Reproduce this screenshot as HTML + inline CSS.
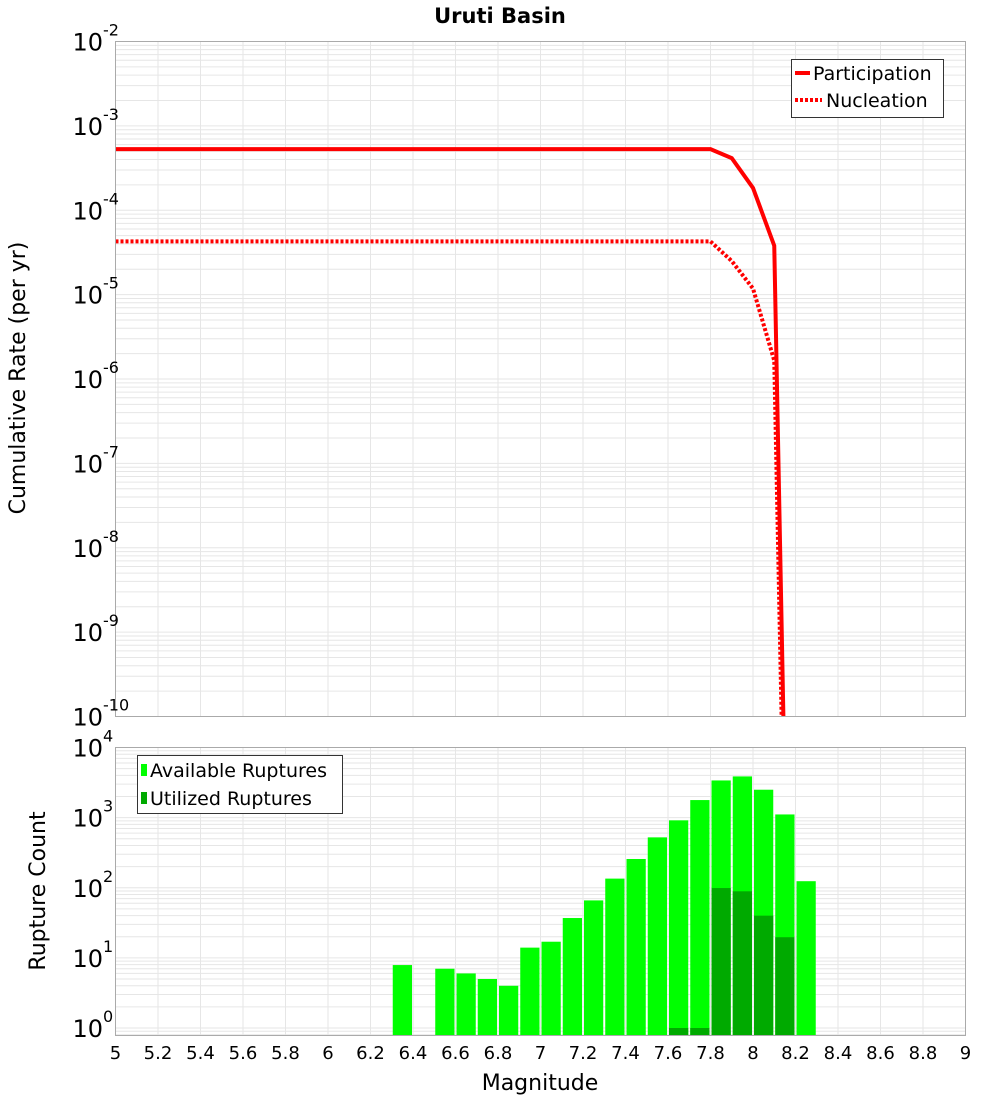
<!DOCTYPE html>
<html><head><meta charset="utf-8"><style>
body{margin:0;background:#fff;}
svg{display:block;font-family:"DejaVu Sans","Liberation Sans",sans-serif;}
</style></head><body>
<svg id="chart" width="1000" height="1100" xmlns="http://www.w3.org/2000/svg">
<text x="500" y="23" text-anchor="middle" font-size="21" font-weight="bold">Uruti Basin</text>
<g id="gtop"></g>
<g id="gbot"></g>
<text transform="translate(25,378) rotate(-90)" text-anchor="middle" font-size="22">Cumulative Rate (per yr)</text>
<text transform="translate(45,891) rotate(-90)" text-anchor="middle" font-size="22">Rupture Count</text>
<text x="540" y="1090" text-anchor="middle" font-size="22">Magnitude</text>
<g>
<rect x="791.5" y="59.5" width="152" height="58" fill="#fff" stroke="#333"/>
<line x1="795" y1="73" x2="810" y2="73" stroke="#f00" stroke-width="4"/>
<text x="813" y="80" font-size="19">Participation</text>
<line x1="795" y1="100" x2="822" y2="100" stroke="#f00" stroke-width="4" stroke-dasharray="3,2"/>
<text x="826" y="107" font-size="19">Nucleation</text>
</g>
<g>
<rect x="137.5" y="755.5" width="205" height="58" fill="#fff" stroke="#333"/>
<rect x="141" y="764" width="6" height="12" fill="#00ff00"/>
<text x="150" y="777" font-size="19">Available Ruptures</text>
<rect x="141" y="792" width="6" height="12" fill="#00aa00"/>
<text x="150" y="805" font-size="19">Utilized Ruptures</text>
</g>
</svg>
<script>
const partMags=[5,7.8,7.9,8.0,8.1,8.2];
const partRates=[5.3e-4,5.3e-4,4.15e-4,1.84e-4,3.8e-5,4e-18];
const nuclMags=[5,7.8,7.9,8.0,8.1,8.2];
const nuclRates=[4.27e-5,4.27e-5,2.5e-5,1.18e-5,1.65e-6,1e-18];
const binMags=[6.35,6.55,6.65,6.75,6.85,6.95,7.05,7.15,7.25,7.35,7.45,7.55,7.65,7.75,7.85,7.95,8.05,8.15,8.25];
const availCounts=[7.9,7,6,5,4,14,17,37,66,135,257,523,915,1780,3390,3870,2500,1110,124];
const usedCounts=[0,0,0,0,0,0,0,0,0,0,0,0,1,1,99,89,40,19.7,0];
const xTicks=[5,5.2,5.4,5.6,5.8,6,6.2,6.4,6.6,6.8,7,7.2,7.4,7.6,7.8,8,8.2,8.4,8.6,8.8,9];
const topExps=[-2,-3,-4,-5,-6,-7,-8,-9,-10];
const botExps=[4,3,2,1,0];
const NS="http://www.w3.org/2000/svg";
const L=115.5,R=965.5;
const xs=m=>L+(m-5)/4*(R-L);
const T1=41.5,B1=716.5; const yTop=v=>T1+(-2-Math.log10(v))/8*(B1-T1);
const T2=747.5,Z2=1028,B2=1035.5; const yBot=v=>T2+(4-Math.log10(v))/4*(Z2-T2);
function mk(p,tag,at){const e=document.createElementNS(NS,tag);for(const k in at)e.setAttribute(k,at[k]);p.appendChild(e);return e;}
const gTop=document.getElementById('gtop'),gBot=document.getElementById('gbot');
function grid(g,T,B,yf,emin,emax){
  for(const t of xTicks){const l=mk(g,'line',{x1:xs(t),x2:xs(t),y1:T,y2:B,stroke:'#e6e6e6'});
    
    }
  for(let e=emin;e<emax;e++)for(let k=1;k<10;k++){const y=yf(k*Math.pow(10,e));if(y<T||y>B)continue;
    const l=mk(g,'line',{x1:L,x2:R,y1:y,y2:y,stroke:'#e6e6e6'});
    
    }
}
grid(gTop,T1,B1,yTop,-10,-2);
grid(gBot,T2,B2,yBot,-1,4);
const cp=mk(document.getElementById('chart'),'clipPath',{id:'c1'});
mk(cp,'rect',{x:L,y:T1,width:R-L,height:B1-T1});
function line(mags,vals,dash,name){const p=mk(gTop,'polyline',{points:mags.map((m,i)=>xs(m)+','+yTop(vals[i])).join(' '),fill:'none',stroke:'#f00','stroke-width':4,'clip-path':'url(#c1)'});
  if(dash)p.setAttribute('stroke-dasharray',dash);
  
  }
line(partMags,partRates,null,'participation-line');
line(nuclMags,nuclRates,'3,2','nucleation-line');
const bw=xs(5.1)-L-2;
binMags.forEach((m,i)=>{
  if(availCounts[i]>0){const r=mk(gBot,'rect',{x:xs(m-0.05)+1,width:bw,y:yBot(availCounts[i]),height:B2-yBot(availCounts[i]),fill:'#00ff00'});
    
    }
  if(usedCounts[i]>0){const r=mk(gBot,'rect',{x:xs(m-0.05)+1,width:bw,y:yBot(usedCounts[i]),height:B2-yBot(usedCounts[i]),fill:'#00aa00'});
    
    }
});
[[gTop,T1,B1],[gBot,T2,B2]].forEach(([g,T,B])=>{const r=mk(g,'rect',{x:L,y:T,width:R-L,height:B-T,fill:'none',stroke:'#aaa'});
  
  });
function ylab(g,y,e){const t=mk(g,'text',{x:103,y:y+9,'text-anchor':'end','font-size':24});
  t.textContent='10';
  
  
  const s=mk(g,'text',{x:103,y:y-6,'font-size':16});
  s.textContent=String(e);
  
  }
topExps.forEach(e=>ylab(gTop,yTop(Math.pow(10,e)),e));
botExps.forEach(e=>ylab(gBot,yBot(Math.pow(10,e)),e));
xTicks.forEach(t=>{const s=mk(gBot,'text',{x:xs(t),y:1059,'text-anchor':'middle','font-size':18});
  s.textContent=String(t);
  
  });
</script>
</body></html>
